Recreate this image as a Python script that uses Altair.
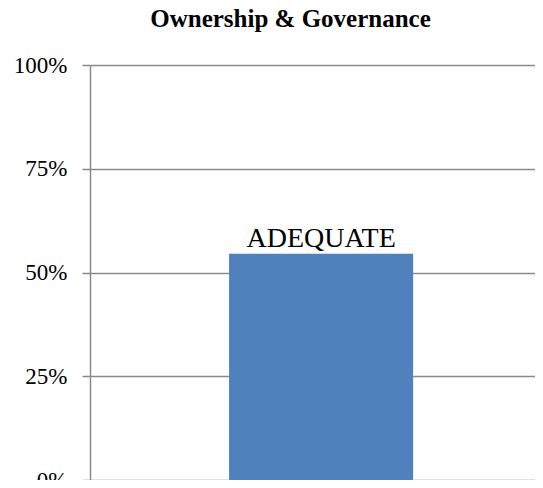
import altair as alt
import pandas as pd

categories = ["Ownership & Governance"]
values = [0.545]
labels = ["ADEQUATE"]
y_ticks = [0, 0.25, 0.5, 0.75, 1.0]

df = pd.DataFrame({"cat": categories, "value": values, "label": labels})

base = alt.Chart(df).encode(
    x=alt.X("cat:N", axis=None,
            scale=alt.Scale(paddingInner=0, paddingOuter=0.709, align=0.533)),
    y=alt.Y("value:Q",
            scale=alt.Scale(domain=[0, 1], nice=False),
            axis=alt.Axis(values=y_ticks, format=".0%", title=None,
                          grid=True, gridColor="#8a8a8a", gridWidth=1.5,
                          domainColor="#8a8a8a", domainWidth=1.5,
                          tickColor="#8a8a8a", tickWidth=1.5, tickSize=8,
                          labelFont="Liberation Serif", labelFontSize=23,
                          labelColor="#000000", labelPadding=15)),
)

bars = base.mark_bar(color="#4F81BD")
text = base.mark_text(font="Liberation Serif", fontSize=28, color="#000000",
                      baseline="alphabetic", dy=-7).encode(text="label:N")

chart = alt.layer(bars, text).properties(
    width=445, height=415,
    autosize=alt.AutoSizeParams(type="none"),
    padding={"left": 82, "top": 57, "right": 0, "bottom": 0},
    title=alt.TitleParams("Ownership & Governance", font="Liberation Serif",
                          fontSize=25, fontWeight="bold", color="#000000",
                          anchor="middle", dx=-22, frame="group",
                          baseline="alphabetic", offset=2),
).configure_view(stroke=None)

chart.save("out.html", embed_options={"renderer": "svg", "actions": False})
